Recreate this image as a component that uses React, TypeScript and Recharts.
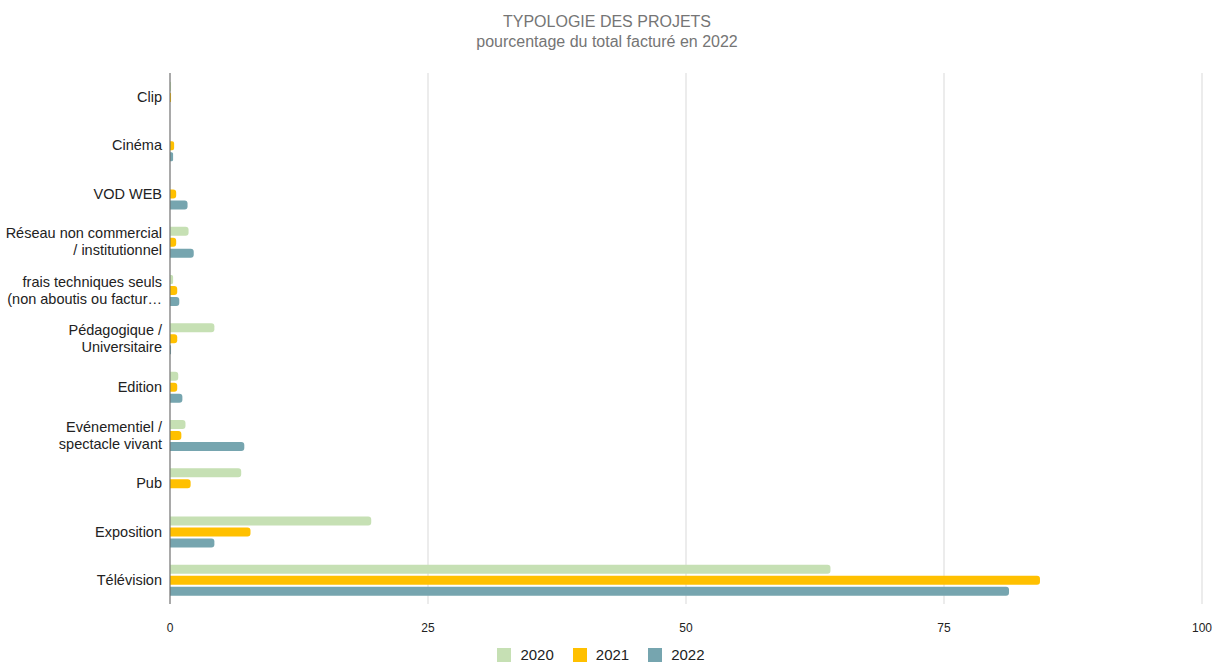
import React from 'react';
import {
  BarChart, Bar, XAxis, YAxis, CartesianGrid, Legend,
} from 'recharts';

const categories = [
  'Clip',
  'Cinéma',
  'VOD WEB',
  'Réseau non commercial / institutionnel',
  'frais techniques seuls (non aboutis ou facturés seuls)',
  'Pédagogique / Universitaire',
  'Edition',
  'Evénementiel / spectacle vivant',
  'Pub',
  'Exposition',
  'Télévision',
];

// how each category label is shown on the axis
const tickLines = [
  ['Clip'],
  ['Cinéma'],
  ['VOD WEB'],
  ['Réseau non commercial', '/ institutionnel'],
  ['frais techniques seuls', '(non aboutis ou factur…'],
  ['Pédagogique /', 'Universitaire'],
  ['Edition'],
  ['Evénementiel /', 'spectacle vivant'],
  ['Pub'],
  ['Exposition'],
  ['Télévision'],
];

const values2020 = [0.1, 0, 0, 1.8, 0.3, 4.3, 0.8, 1.5, 6.9, 19.5, 64];
const values2021 = [0.1, 0.4, 0.6, 0.6, 0.7, 0.7, 0.7, 1.1, 2.0, 7.8, 84.3];
const values2022 = [0, 0.3, 1.7, 2.3, 0.9, 0.1, 1.2, 7.2, 0, 4.3, 81.3];

const xTicks = [0, 25, 50, 75, 100];

const data = categories.map((name, i) => ({
  name,
  y2020: values2020[i],
  y2021: values2021[i],
  y2022: values2022[i],
}));

const FONT = '"Liberation Sans", Arial, sans-serif';

function CategoryTick(props: any) {
  const { x, y, payload } = props;
  const lines = tickLines[payload.index] || [payload.value];
  const lh = 17;
  const start = -((lines.length - 1) * lh) / 2;
  return (
    <text x={x} y={y} textAnchor="end" fill="#222" fontSize={14.5} fontFamily={FONT}>
      {lines.map((l: string, k: number) => (
        <tspan key={k} x={x} dy={k === 0 ? start + 5 : lh}>{l}</tspan>
      ))}
    </text>
  );
}

function LegendContent(props: any) {
  const { payload } = props;
  return (
    <div style={{
      display: 'flex', justifyContent: 'center', alignItems: 'center', height: 14, lineHeight: '14px',
    }}
    >
      {(payload || []).map((p: any, i: number) => (
        <div key={i} style={{ display: 'flex', alignItems: 'center', marginLeft: i === 0 ? 0 : 19 }}>
          <span style={{
            display: 'inline-block', width: 14, height: 14, background: p.color, marginRight: 9,
          }}
          />
          <span style={{ color: '#222', fontSize: 15, fontFamily: FONT }}>{p.value}</span>
        </div>
      ))}
    </div>
  );
}

export default function App() {
  return (
    <div style={{ position: 'absolute', left: 0, top: 0, width: 1214, height: 663, fontFamily: FONT }}>
      <div style={{
        position: 'absolute', left: 0, top: 12, width: 1214, textAlign: 'center',
        color: '#757575', fontSize: 16, lineHeight: '20px',
      }}
      >
        <div>TYPOLOGIE DES PROJETS</div>
        <div>pourcentage du total facturé en 2022</div>
      </div>
      <BarChart
        width={1214}
        height={663}
        data={data}
        layout="vertical"
        margin={{
          top: 73, right: 12, left: 0, bottom: 0,
        }}
        barGap={2}
        barSize={9}
      >
        <CartesianGrid horizontal={false} stroke="#d9d9d9" />
        <XAxis
          type="number"
          domain={[0, 100]}
          ticks={xTicks}
          axisLine={false}
          tickLine={false}
          height={30}
          tick={{ fill: '#222', fontSize: 12, fontFamily: FONT }}
          tickMargin={13}
        />
        <YAxis
          type="category"
          dataKey="name"
          width={170}
          tick={<CategoryTick />}
          tickLine={false}
          axisLine={{ stroke: '#666' }}
          interval={0}
        />
        <Legend
          verticalAlign="bottom"
          height={29}
          content={<LegendContent />}
          wrapperStyle={{ top: 648 }}
        />
        <Bar dataKey="y2020" name="2020" fill="#c6e0b4" radius={[0, 3, 3, 0]} isAnimationActive={false} />
        <Bar dataKey="y2021" name="2021" fill="#ffc000" radius={[0, 3, 3, 0]} isAnimationActive={false} />
        <Bar dataKey="y2022" name="2022" fill="#76a5af" radius={[0, 3, 3, 0]} isAnimationActive={false} />
      </BarChart>
    </div>
  );
}
